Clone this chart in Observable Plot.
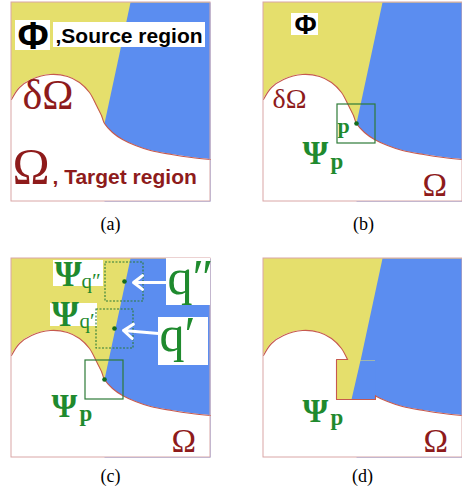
<!DOCTYPE html>
<html><head><meta charset="utf-8">
<script src="https://cdn.jsdelivr.net/npm/d3@7"></script>
<script src="https://cdn.jsdelivr.net/npm/@observablehq/plot@0.6"></script>
<style>body{margin:0;background:#fff}</style>
</head><body><div id="chart"></div>
<script>
// ---- data (panel-local coordinates) ----
const panelId = ["a", "b", "c", "d"];
const panelX0 = [11, 263, 11, 263];
const panelY0 = [2, 2, 258, 258];
const panelSize = [199, 199];
const panelLabelText = ["(a)", "(b)", "(c)", "(d)"];
const panelLabelX = [110, 363, 110, 362];
const panelLabelY = [229, 229, 481, 481];

// boundary δΩ of the target region
const boundaryX = [0, 8, 20, 39, 56, 68, 78, 85, 90, 93, 101, 111, 124, 139, 160, 180, 199];
const boundaryY = [97, 85, 77, 72, 74, 80, 90, 103, 113, 121, 130, 137, 143, 148, 152, 155, 157];

// yellow / blue split line (top point, meeting point with δΩ)
const splitX = [119, 93];
const splitY = [0, 121];

// patches: [x1, x2, y1, y2]
const patchP = [74, 112, 102, 141];
const patchQ2 = [94, 132, 4, 43];
const patchQ1 = [85, 122, 51, 90];
const dotsPanel = ["b", "c", "c", "c"];
const dotsX = [93, 93, 113, 103];
const dotsY = [121, 121, 23, 70];

// panel (d): filled patch
const filledBlueX = [97, 112, 112, 88];
const filledBlueY = [102, 102, 141, 141];
const notchX = [84, 73, 73, 112, 112];
const notchY = [101, 101, 141, 141, 137];

// white label boxes: panel, x1, x2, y1, y2
const boxPanel = ["a", "a", "b", "c", "c", "c", "c"];
const boxX1 = [4, 42, 28, 42, 39, 155, 147];
const boxX2 = [39, 194, 55, 92, 86, 199, 197];
const boxY1 = [18, 20, 11, 2, 45, 0, 59];
const boxY2 = [48, 45, 33, 28, 68, 47, 107];

// arrows in (c)
const arrowX1 = [156, 147];
const arrowY1 = [24, 75];
const arrowX2 = [122, 112];
const arrowY2 = [24, 72];

// text labels
const textPanel = ["a","a","a","a","a", "b","b","b","b","b","b", "c","c","c","c","c","c","c","c","c", "d","d","d"];
const textValue = ["Φ", ",Source region", "δΩ", "Ω", ", Target region",
  "Φ", "δΩ", "p", "Ψ", "p", "Ω",
  "Ψ", "q″", "Ψ", "q′", "q″", "q′", "Ψ", "p", "Ω",
  "Ψ", "p", "Ω"];
const textX = [21.5, 44, 11, 1, 41,  42, 9, 74, 39, 67, 159,  43, 70, 40, 68, 156, 148, 40, 68, 160,  39, 67, 160];
const textY = [46, 40, 106, 180, 181,  31, 105, 130, 161, 166, 193,  27, 29, 67, 69, 35, 92, 158, 162, 193,  163, 166, 193];
const textRole = ["phiA", "sourceText", "deltaA", "omegaBig", "targetText",
  "phiB", "deltaB", "pPoint", "psi", "sub", "omega",
  "psiQ", "subQ", "psiQ", "subQ", "qBig", "qBig", "psi", "sub", "omega",
  "psi", "sub", "omega"];

// ---- styles ----
const yellow = "#e5df6c", blue = "#5b8df0", darkRed = "#8e1b1b", green = "#1f8a2e",
      boxGreen = "#2d7b38", curveRed = "#c65a4e", frameColor = "#d9a6a6";
const serif = "Liberation Serif, Times New Roman, serif";
const sans = "Liberation Sans, Arial, sans-serif";
const styles = {
  phiA: {fontSize: 38, fontFamily: sans, fontWeight: "bold", fill: "black", textAnchor: "middle"},
  phiB: {fontSize: 27, fontFamily: sans, fontWeight: "bold", fill: "black", textAnchor: "middle"},
  sourceText: {fontSize: 21, fontFamily: sans, fontWeight: "bold", fill: "black"},
  targetText: {fontSize: 21, fontFamily: sans, fontWeight: "bold", fill: darkRed},
  deltaA: {fontSize: 42, fontFamily: serif, fill: darkRed},
  deltaB: {fontSize: 28, fontFamily: serif, fill: darkRed},
  omegaBig: {fontSize: 50, fontFamily: serif, fill: darkRed},
  omega: {fontSize: 33, fontFamily: serif, fill: darkRed},
  psi: {fontSize: 33, fontFamily: serif, fontWeight: "bold", fill: green},
  psiQ: {fontSize: 35, fontFamily: serif, fontWeight: "bold", fill: green},
  sub: {fontSize: 23, fontFamily: serif, fontWeight: "bold", fill: green},
  subQ: {fontSize: 21, fontFamily: serif, fill: green},
  pPoint: {fontSize: 22, fontFamily: serif, fontWeight: "bold", fill: green},
  qBig: {fontSize: 50, fontFamily: serif, fill: green}
};

// ---- build tables ----
const origin = Object.fromEntries(panelId.map((id, i) => [id, [panelX0[i], panelY0[i]]]));
const ax = (p, x) => origin[p][0] + x;
const ay = (p, y) => origin[p][1] + y;
const [PW, PH] = panelSize;

const frames = panelId.map(p => ({p, x1: ax(p, 0), x2: ax(p, PW), y1: ay(p, 0), y2: ay(p, PH)}));
const boundary = panelId.flatMap(p => boundaryX.map((x, i) => ({p, x: ax(p, x), y: ay(p, boundaryY[i]), y2: ay(p, PH)})));
const bluePoly = panelId.flatMap(p => [[splitX[0], splitY[0]], [PW, 0], [PW, PH], [splitX[1], PH], [splitX[1], splitY[1]]]
  .map(([x, y]) => ({p, x: ax(p, x), y: ay(p, y)})));
const sq = (p, r) => ({p, x1: ax(p, r[0]), x2: ax(p, r[1]), y1: ay(p, r[2]), y2: ay(p, r[3])});
const solidSquares = [sq("b", patchP), sq("c", patchP)];
const dashedSquares = [sq("c", patchQ2), sq("c", patchQ1)];
const dots = dotsX.map((x, i) => ({x: ax(dotsPanel[i], x), y: ay(dotsPanel[i], dotsY[i])}));
const filledRect = [sq("d", patchP)];
const filledBlue = filledBlueX.map((x, i) => ({x: ax("d", x), y: ay("d", filledBlueY[i])}));
const notch = notchX.map((x, i) => ({x: ax("d", x), y: ay("d", notchY[i])}));
const boxes = boxPanel.map((p, i) => ({x1: ax(p, boxX1[i]), x2: ax(p, boxX2[i]), y1: ay(p, boxY1[i]), y2: ay(p, boxY2[i])}));
const arrows = arrowX1.map((x, i) => ({x1: ax("c", x), y1: ay("c", arrowY1[i]), x2: ax("c", arrowX2[i]), y2: ay("c", arrowY2[i])}));
const texts = textValue.map((t, i) => ({t, role: textRole[i], x: ax(textPanel[i], textX[i]), y: ay(textPanel[i], textY[i])}));
const panelLabels = panelLabelText.map((t, i) => ({t, x: panelLabelX[i], y: panelLabelY[i]}));

const textMarks = Object.keys(styles).map(role =>
  Plot.text(texts.filter(d => d.role === role), {
    x: "x", y: "y", text: "t", lineAnchor: "bottom", textAnchor: "start", ...styles[role]
  }));

const chart = Plot.plot({
  width: 462, height: 497, margin: 0,
  x: {domain: [0, 462], range: [0, 462], axis: null},
  y: {domain: [0, 497], range: [0, 497], axis: null},
  marks: [
    Plot.rect(frames, {x1: "x1", x2: "x2", y1: "y1", y2: "y2", fill: yellow}),
    Plot.line(bluePoly, {x: "x", y: "y", z: "p", fill: blue, stroke: "none"}),
    Plot.areaY(boundary, {x: "x", y1: "y", y2: "y2", z: "p", fill: "white", curve: "catmull-rom"}),
    Plot.line(boundary, {x: "x", y: "y", z: "p", stroke: curveRed, strokeWidth: 1.1, curve: "catmull-rom"}),
    Plot.rect(filledRect, {x1: "x1", x2: "x2", y1: "y1", y2: "y2", fill: yellow}),
    Plot.line(filledBlue, {x: "x", y: "y", fill: blue, stroke: "none"}),
    Plot.line(notch, {x: "x", y: "y", stroke: curveRed, strokeWidth: 1.1}),
    Plot.rect(frames, {x1: "x1", x2: "x2", y1: "y1", y2: "y2", fill: "none", stroke: frameColor, strokeWidth: 1}),
    Plot.rect(boxes, {x1: "x1", x2: "x2", y1: "y1", y2: "y2", fill: "white"}),
    Plot.rect(solidSquares, {x1: "x1", x2: "x2", y1: "y1", y2: "y2", fill: "none", stroke: boxGreen, strokeWidth: 1.2}),
    Plot.rect(dashedSquares, {x1: "x1", x2: "x2", y1: "y1", y2: "y2", fill: "none", stroke: boxGreen, strokeWidth: 1.1, strokeDasharray: "2,1.5"}),
    Plot.dot(dots, {x: "x", y: "y", r: 2.3, fill: "#146c1e", stroke: "none"}),
    Plot.arrow(arrows, {x1: "x1", y1: "y1", x2: "x2", y2: "y2", stroke: "white", strokeWidth: 3, headLength: 11, headAngle: 75}),
    ...textMarks,
    Plot.text(panelLabels, {x: "x", y: "y", text: "t", fontSize: 18, fontFamily: serif, fill: "black", textAnchor: "middle", lineAnchor: "bottom"})
  ]
});
document.getElementById("chart").append(chart);
</script>
</body></html>
